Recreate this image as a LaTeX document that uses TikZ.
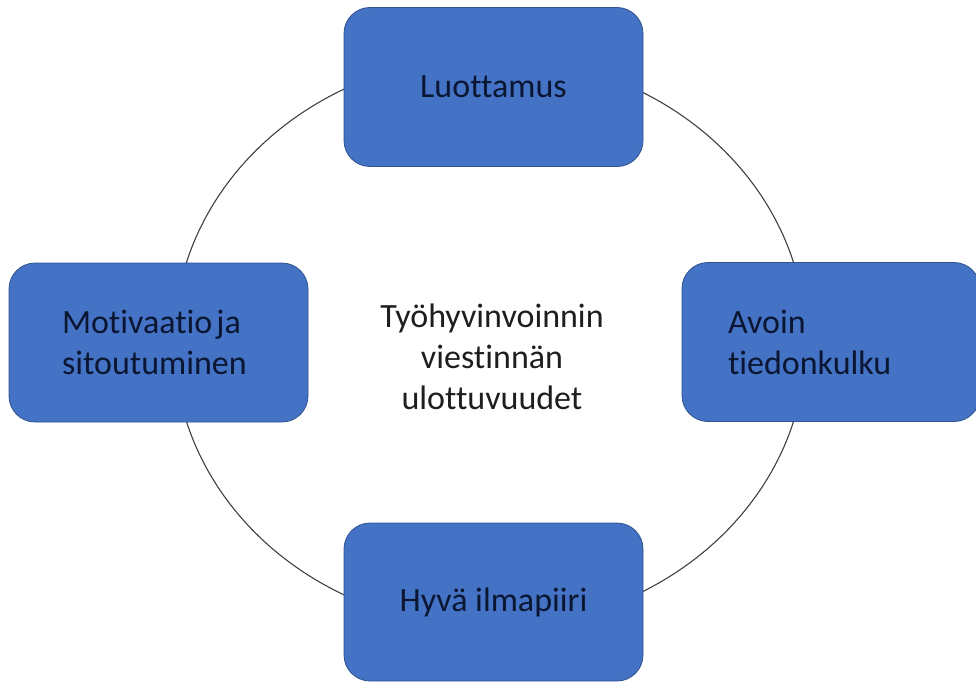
\documentclass[tikz,border=0pt]{standalone}
\usepackage{fontspec}
\setmainfont{Carlito}[Ligatures={NoCommon}]
\definecolor{boxfill}{RGB}{68,114,196}
\definecolor{boxedge}{RGB}{47,82,143}
\definecolor{boxtext}{RGB}{10,22,50}
\definecolor{ringline}{RGB}{64,64,64}
\definecolor{centertext}{RGB}{30,30,30}
\begin{document}
\begin{tikzpicture}[x=1pt,y=-1pt,
  every node/.style={font=\fontsize{34}{41}\selectfont},
  topicbox/.style={rectangle, rounded corners=26pt, fill=boxfill, draw=boxedge,
    line width=0.8pt, text=boxtext, inner sep=0pt,
    minimum width=299pt, minimum height=159pt},
  ring/.style={draw=ringline, line width=1.1pt}]
  \useasboundingbox (0,0) rectangle (976,682);
  % ring behind the four topics
  \draw[ring] (490,342) ellipse [x radius=316, y radius=285];
  % topic boxes
  \node[topicbox] (trust) at (493.5,87) {Luottamus};
  \node[topicbox, minimum height=158pt] (climate) at (493.5,602) {Hyvä ilmapiiri};
  \node[topicbox, align=left, text width=193pt] (motivation) at (158.5,342.5)
    {Motivaatio\hspace{0.12em}ja\\sitoutuminen};
  \node[topicbox, align=left, text width=206pt, minimum width=298pt] (info) at (831,342)
    {Avoin\\tiedonkulku};
  % title in the middle of the ring
  \node[align=center, text=centertext, inner sep=0pt] (title) at (492,357)
    {Työhyvinvoinnin\\viestinnän\\ulottuvuudet};
\end{tikzpicture}
\end{document}
